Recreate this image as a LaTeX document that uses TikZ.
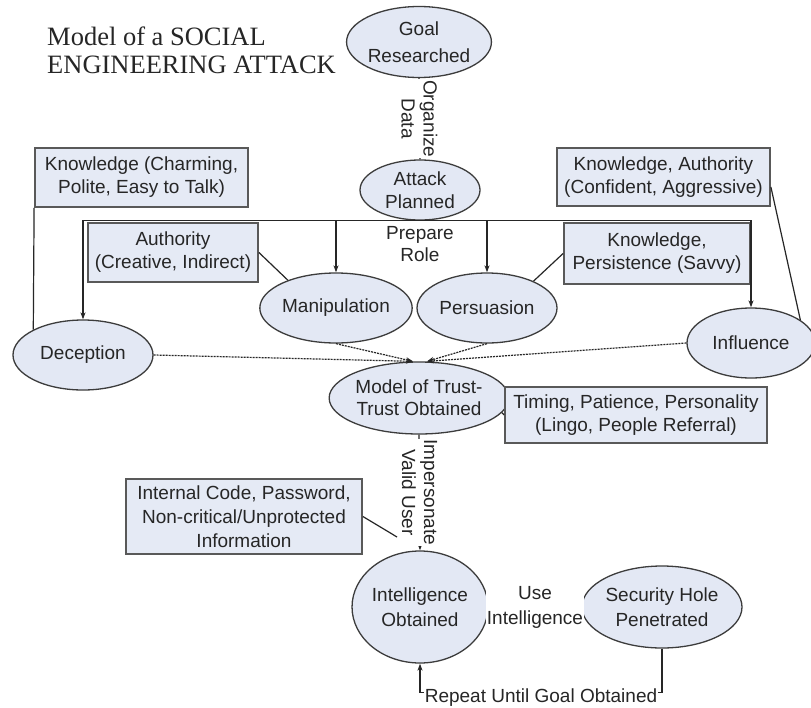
\documentclass[tikz,border=0pt]{standalone}
\usepackage{fontspec}
\setmainfont{Liberation Sans}
\newfontfamily\titlefont{Liberation Serif}
\usetikzlibrary{shapes.geometric,arrows.meta}
\definecolor{ellfill}{RGB}{227,232,244}
\definecolor{boxfill}{RGB}{229,234,245}
\definecolor{edge}{RGB}{60,60,60}
\begin{document}
\begin{tikzpicture}[x=1pt,y=-1pt,
  txt/.style={font=\fontsize{19}{23}\selectfont, align=center, text=black!85},
  ell/.style={txt, ellipse, draw=edge, line width=1.3pt, fill=ellfill, inner sep=0pt},
  sbox/.style={txt, rectangle, draw=black!65, line width=1.8pt, fill=boxfill, inner sep=0pt},
  conn/.style={draw=black!85, line width=1.2pt},
  arr/.style={conn, -{Stealth[length=7pt,width=5pt]}},
  dotarr/.style={arr, dash pattern=on 2pt off 1pt},
  lbl/.style={txt, fill=white, inner sep=1pt},
]
\fill[white] (0,0) rectangle (811,707);
\useasboundingbox (0,0) rectangle (811,707);

% title
\node[font=\titlefont\fontsize{26.5}{28}\selectfont, align=left, anchor=west, inner sep=0pt, text=black!85] (title) at (47,50) {Model of a SOCIAL\\ENGINEERING ATTACK};

% ellipses
\node[ell, minimum width=138pt, minimum height=71pt, font=\fontsize{19}{27}\selectfont] (goal) at (419,42) {Goal\\Researched};
\node[ell, minimum width=120pt, minimum height=60pt] (attack) at (420,190) {Attack\\Planned};
\node[ell, minimum width=140pt, minimum height=70pt] (decep) at (83,355) {Deception};
\node[ell, minimum width=138pt, minimum height=70pt] (manip) at (336,308) {Manipulation};
\node[ell, minimum width=140pt, minimum height=70pt] (pers) at (487,308) {Persuasion};
\node[ell, minimum width=128pt, minimum height=70pt] (infl) at (751,343) {Influence};
\node[ell, minimum width=142pt, minimum height=72pt, font=\fontsize{19}{22}\selectfont] (trust) at (419,398) {Model of Trust-\\Trust Obtained};
\node[ell, minimum width=114pt, minimum height=112pt, font=\fontsize{19}{25}\selectfont] (intel) at (420,607) {Intelligence\\Obtained};
\node[ell, minimum width=160pt, minimum height=82pt, font=\fontsize{19}{25}\selectfont] (sec) at (662,607) {Security Hole\\Penetrated};

% boxes
\node[sbox, minimum width=213pt, minimum height=59pt] (kc) at (141.5,177.5) {Knowledge (Charming,\\Polite, Easy to Talk)};
\node[sbox, minimum width=213pt, minimum height=58pt] (kab) at (663.5,177) {Knowledge, Authority\\(Confident, Aggressive)};
\node[sbox, minimum width=170pt, minimum height=59pt] (acr) at (173,252.5) {Authority\\(Creative, Indirect)};
\node[sbox, minimum width=186pt, minimum height=61pt] (kps) at (657,253.5) {Knowledge,\\Persistence (Savvy)};
\node[sbox, minimum width=262pt, minimum height=56pt] (tim) at (636,415) {Timing, Patience, Personality\\(Lingo, People Referral)};
\node[sbox, minimum width=236pt, minimum height=75pt, font=\fontsize{19}{24}\selectfont] (icp) at (244,516.5) {Internal Code, Password,\\Non-critical/Unprotected\\Information};

% labels
\node[txt, font=\fontsize{19}{22}\selectfont] (prep) at (420,244) {Prepare\\Role};

% connectors
\draw[conn] (goal.south) -- node[lbl, rotate=-90, font=\fontsize{19}{22}\selectfont] {Organize\\Data} (attack.north);

\draw[arr] (attack.south) -| (decep.north);
\draw[arr] (attack.south) -| (manip.north);
\draw[arr] (attack.south) -| (pers.north);
\draw[arr] (attack.south) -| (infl.north);

\draw[conn] (kc.south west) -- (decep.153);
\draw[conn] ([yshift=-10pt]kab.east) -- (infl.25);
\draw[conn] (acr.east) -- (manip.150);
\draw[conn] (kps.west) -- (pers.30);

\coordinate (t1) at ([xshift=-6pt]trust.north);
\coordinate (t2) at ([xshift=8pt]trust.north);
\draw[dotarr] (decep.east) -- (t1);
\draw[dotarr] (manip.south) -- (t1);
\draw[dotarr] (pers.south) -- (t2);
\draw[dotarr] (infl.west) -- (t2);

\draw[conn] (trust.-10) -- (tim.west);

\draw[arr] (trust.south) -- node[lbl, rotate=-90, font=\fontsize{19}{22}\selectfont] {Impersonate\\Valid User} (intel.north);

\coordinate (iv) at (397,537);
\draw[conn] (icp.east) -- (iv);

\draw[arr] (intel.east) -- node[lbl, font=\fontsize{19}{25}\selectfont] {Use\\Intelligence} (sec.west);

\draw[arr] (sec.south) -- ++(0,44) -| node[pos=0.25, lbl, yshift=-5pt] {Repeat Until Goal Obtained} (intel.south);
\end{tikzpicture}
\end{document}
